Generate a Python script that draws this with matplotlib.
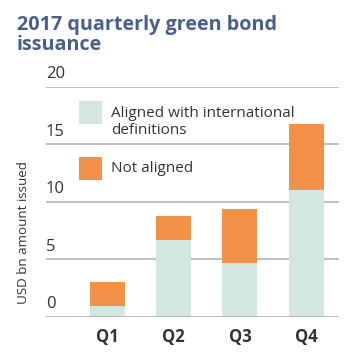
"""
2017 quarterly green bond issuance - stacked bars
"""
import matplotlib.pyplot as plt
import matplotlib.transforms as mtransforms
from matplotlib.patches import Rectangle

plt.rcParams['font.family'] = ['Open Sans', 'DejaVu Sans']

# Data
quarters = ['Q1', 'Q2', 'Q3', 'Q4']
aligned = [0.9, 6.7, 4.7, 11.0]
not_aligned = [2.1, 2.1, 4.7, 5.8]
y_ticks = [0, 5, 10, 15, 20]
labels = ['Aligned with international\ndefinitions', 'Not aligned']

green = '#d3e7de'
orange = '#f39149'
grid_col = '#b3b3bb'
text_col = '#333333'
title_col = '#4a5f8e'

W, H = 350, 355
fig = plt.figure(figsize=(3.5, 3.55), dpi=100)
ax = fig.add_axes([46 / W, (H - 316.7) / H, 293 / W, (316.7 - 87) / H])

x = list(range(len(quarters)))
ax.bar(x, aligned, width=0.53, color=green, zorder=2, label=labels[0])
ax.bar(x, not_aligned, bottom=aligned, width=0.53, color=orange, zorder=2,
       label=labels[1])

ax.set_xlim(-0.929, 3.497)
ax.set_ylim(0, 20)

# Gridlines and tick labels sitting on top of them
trans = mtransforms.blended_transform_factory(ax.transAxes, ax.transData)
for t in y_ticks:
    ax.axhline(t, color=grid_col, linewidth=1.2, zorder=1 if t else 3)
    ax.text(0.0, t + 0.75, str(t), transform=trans, ha='left', va='baseline',
            fontsize=12, color=text_col)

for s in ax.spines.values():
    s.set_visible(False)
ax.set_yticks([])
ax.set_xticks(x)
ax.set_xticklabels(quarters, fontweight='bold', fontsize=12, color=text_col)
ax.tick_params(axis='x', length=0, pad=8)

fig.text(24 / W, (H - 232.5) / H, 'USD bn amount issued', rotation=90,
         ha='center', va='center', fontsize=9.6, color=text_col)

fig.text(17 / W, 1 - 15 / H, '2017 quarterly green bond\nissuance',
         ha='left', va='top', fontsize=14.2, fontweight='bold', color=title_col,
         linespacing=1.0)

# Legend drawn by hand: square swatches next to their text
fig.patches.append(Rectangle((79 / W, 1 - 124 / H), 23 / W, 23 / H,
                             transform=fig.transFigure, facecolor=green,
                             edgecolor='none'))
fig.text(111 / W, 1 - 106 / H, labels[0], ha='left', va='top',
         fontsize=11, color=text_col, linespacing=1.15)
fig.patches.append(Rectangle((79 / W, 1 - 180 / H), 23 / W, 23 / H,
                             transform=fig.transFigure, facecolor=orange,
                             edgecolor='none'))
fig.text(111 / W, 1 - 168.5 / H, labels[1], ha='left', va='center',
         fontsize=11, color=text_col)

plt.savefig('out.png', dpi=100)
plt.close()
